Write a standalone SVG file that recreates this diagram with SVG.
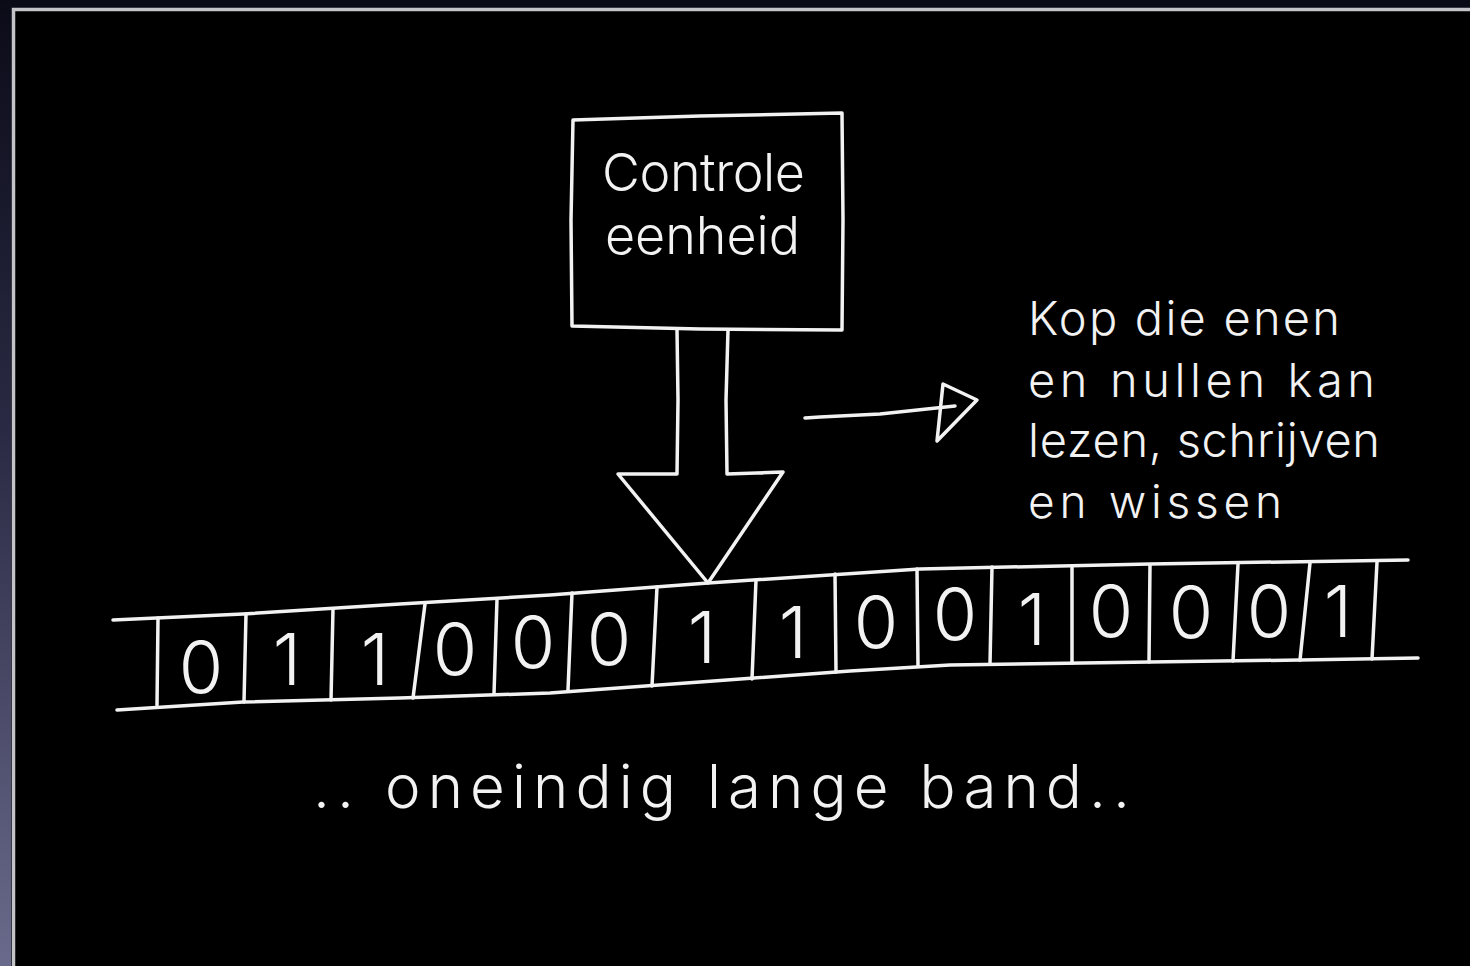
<svg xmlns="http://www.w3.org/2000/svg" width="1470" height="966" viewBox="0 0 1470 966">
  <defs>
    <linearGradient id="side" x1="0" y1="0" x2="0" y2="1">
      <stop offset="0" stop-color="#0b0b18"/>
      <stop offset="0.45" stop-color="#2a2a44"/>
      <stop offset="1" stop-color="#6a6a8c"/>
    </linearGradient>
    <style>
      .ink { fill: none; stroke: #f2f2f2; stroke-width: 3.5; stroke-linecap: round; stroke-linejoin: round; }
      .hand { fill: #f2f2f2; font-family: Inter, "Liberation Sans", sans-serif; font-weight: 300; }
      .digit { font-size: 72px; text-anchor: middle; }
    </style>
  </defs>

  <!-- backdrop and frame -->
  <rect x="0" y="0" width="1470" height="966" fill="#0a0a16"/>
  <rect x="0" y="0" width="11" height="966" fill="url(#side)"/>
  <rect x="12" y="9" width="1458" height="957" fill="#000"/>
  <path d="M13.5,966 V9.5 H1470" fill="none" stroke="#c4c4c8" stroke-width="3.5"/>

  <!-- control unit -->
  <g id="controle-eenheid">
    <path class="ink" d="M573,120 L700,116 L842,113 L843,220 L842,330 L700,329 L572,326 L571,220 Z"/>
    <text class="hand" x="602" y="191" font-size="52" textLength="203" lengthAdjust="spacing">Controle</text>
    <text class="hand" x="605" y="254" font-size="52" textLength="195" lengthAdjust="spacing">eenheid</text>
  </g>

  <!-- read/write head arrow -->
  <g id="kop">
    <path class="ink" d="M677,330 L678,400 L677,474 L618,474 L708,583 L783,472 L727,474 L726,400 L728,330"/>
  </g>

  <!-- tape -->
  <g id="band">
    <path class="ink" d="M113,620 L243,614 L400,604 L550,595 L708,583 L920,569 L1150,564 L1408,560"/>
    <path class="ink" d="M117,710 L243,702 L400,698 L550,693 L700,682 L850,671 L950,665 L1150,662 L1300,660 L1418,658"/>
    <path class="ink" d="M158,618 L157,705 M246,614 L244,702 M333,609 L331,700 M425,604 L413,698 M497,599 L494,694 M572,593 L568,690 M657,587 L652,686 M756,580 L752,679 M835,574 L836,672 M917,569 L918,666 M992,567 L990,664 M1072,566 L1072,663 M1150,565 L1149,662 M1238,564 L1233,661 M1310,563 L1300,660 M1377,562 L1372,659"/>
    <g class="hand digit">
      <text x="201" y="693">0</text>
      <text x="287" y="685">1</text>
      <text x="375" y="685">1</text>
      <text x="455" y="675">0</text>
      <text x="533" y="668">0</text>
      <text x="609" y="665">0</text>
      <text x="702" y="663">1</text>
      <text x="793" y="658">1</text>
      <text x="876" y="648">0</text>
      <text x="955" y="640">0</text>
      <text x="1032" y="645">1</text>
      <text x="1111" y="637">0</text>
      <text x="1191" y="638">0</text>
      <text x="1269" y="637">0</text>
      <text x="1338" y="637">1</text>
    </g>
  </g>

  <!-- label arrow -->
  <g id="connectors">
    <path class="ink" d="M805,418 L820,417 L880,414 L955,406"/>
    <path class="ink" d="M943,384 L977,400 L937,441 Z"/>
  </g>

  <!-- head description -->
  <g id="kop-tekst">
    <text class="hand" x="1028" y="335" font-size="47" textLength="312" lengthAdjust="spacing">Kop die enen</text>
    <text class="hand" x="1028" y="397" font-size="47" textLength="347" lengthAdjust="spacing">en nullen kan</text>
    <text class="hand" x="1028" y="457" font-size="47" textLength="352" lengthAdjust="spacing">lezen, schrijven</text>
    <text class="hand" x="1028" y="518" font-size="46" textLength="254" lengthAdjust="spacing">en  wissen</text>
  </g>

  <!-- tape label -->
  <g id="band-tekst">
    <text class="hand" x="313" y="808" font-size="60" textLength="817" lengthAdjust="spacing">.. oneindig lange band..</text>
  </g>
</svg>
